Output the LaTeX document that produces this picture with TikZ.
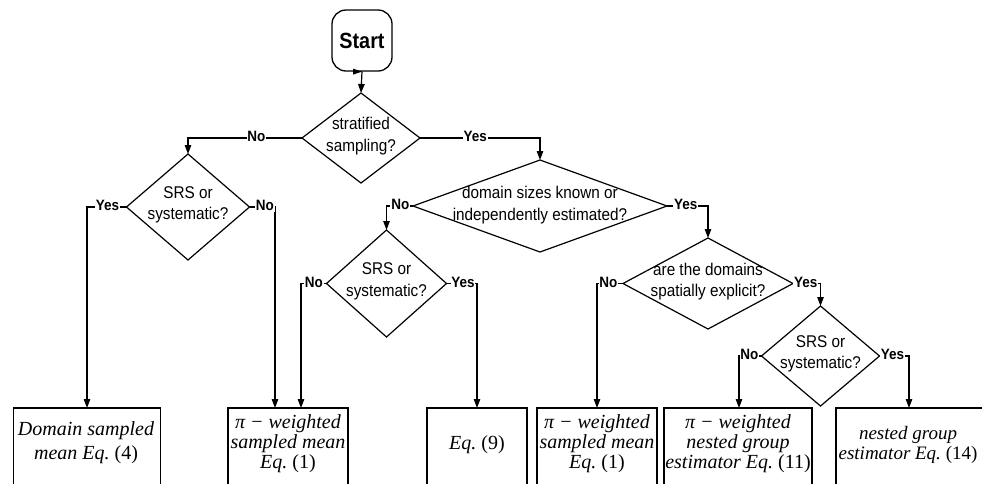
\documentclass[tikz,border=0pt]{standalone}
\usepackage{fontspec}
\setmainfont{Liberation Serif}
\newfontfamily\dsans[FakeStretch=0.9]{Liberation Sans}
\usetikzlibrary{shapes.geometric,arrows.meta,calc}
\tikzset{
  dia/.style={diamond, draw, line width=1.2pt, inner sep=0pt, outer sep=0pt},
  dtxt/.style={align=center, font=\dsans\fontsize{17}{21.5}\selectfont, inner sep=0pt},
  arr/.style={line width=1.2pt, -{Triangle[length=9pt,width=6.5pt]}},
  lbl/.style={fill=white, inner sep=0.8pt, yshift=1.5pt, font=\dsans\bfseries\fontsize{15}{16}\selectfont},
  boxnode/.style={draw, line width=1.4pt, inner sep=0pt, outer sep=0pt, anchor=north},
  btxt/.style={align=center, inner sep=0pt, font=\fontsize{20}{20}\selectfont},
  startbox/.style={draw, line width=1.3pt, rounded corners=14pt, minimum width=60pt, minimum height=61pt, inner sep=0pt, font=\dsans\bfseries\fontsize{22}{24}\selectfont}
}
\begin{document}
\begin{tikzpicture}[x=1pt,y=-1pt]
\useasboundingbox (0,0) rectangle (982,483);
\clip (0,0) rectangle (982,483);
\fill[white] (0,0) rectangle (982,483);

% start
\node[startbox] (s) at (362,40.5) {Start};
\fill ($(s.south)+(-9,-3)$) -- ($(s.south)+(-9,3)$) -- ($(s.south)+(0,0)$) -- cycle;

% diamonds
\node[dia, minimum width=118pt, minimum height=90pt] (d1) at (361,138) {};
\node[dtxt] (d1t) at ([yshift=2pt]d1) {stratified\\sampling?};
\node[dia, minimum width=123pt, minimum height=106pt] (d2) at (188,207) {};
\node[dtxt] (d2t) at ([yshift=2pt]d2) {SRS or\\systematic?};
\node[dia, minimum width=254pt, minimum height=92pt] (d3) at (540,206) {};
\node[dtxt] (d3t) at ([yshift=1pt]d3) {domain sizes known or\\independently estimated?};
\node[dia, minimum width=120pt, minimum height=107pt] (d4) at (386.5,283.5) {};
\node[dtxt] (d4t) at ([yshift=2pt]d4) {SRS or\\systematic?};
\node[dia, minimum width=170pt, minimum height=91pt] (d5) at (708,283.5) {};
\node[dtxt] (d5t) at ([yshift=2pt]d5) {are the domains\\spatially explicit?};
\node[dia, minimum width=118pt, minimum height=100pt] (d6) at (820.5,356) {};
\node[dtxt] (d6t) at ([yshift=2pt]d6) {SRS or\\systematic?};

% boxes
\node[boxnode, minimum width=147pt, minimum height=95pt] (b1) at (87,408) {};
\node[btxt, font=\fontsize{20}{24}\selectfont] (t1) at (86,443) {\textit{Domain sampled}\\\textit{mean Eq.}~(4)};
\node[boxnode, minimum width=120pt, minimum height=95pt] (b2) at (288,408) {};
\node[btxt] (t2) at (288,444) {\textit{π − weighted}\\\textit{sampled mean}\\\textit{Eq.}~(1)};
\node[boxnode, minimum width=100pt, minimum height=95pt] (b3) at (477,408) {};
\node[btxt] (t3) at (477,445) {\textit{Eq.}~(9)};
\node[boxnode, minimum width=120pt, minimum height=95pt] (b4) at (597,408) {};
\node[btxt] (t4) at (597,444) {\textit{π − weighted}\\\textit{sampled mean}\\\textit{Eq.}~(1)};
\node[boxnode, minimum width=148pt, minimum height=95pt] (b5) at (738,408) {};
\node[btxt] (t5) at (738,444) {\textit{π − weighted}\\\textit{nested group}\\\textit{estimator Eq.}~(11)};
\node[boxnode, minimum width=160pt, minimum height=95pt] (b6) at (916,408) {};
\node[btxt, font=\fontsize{19}{20}\selectfont] (t6) at (908,445) {\textit{nested group}\\\textit{estimator Eq.}~(14)};

% connectors
\draw[arr] (s.south) -- (d1.north);
\draw[arr] (d1.west) -| node[lbl, pos=0.2] {No} (d2.north);
\draw[arr] (d1.east) -| node[lbl, pos=0.23] {Yes} (d3.north);
\draw[arr] (d2.west) -| node[lbl, pos=0.24] {Yes} (b1.north);
\draw[arr] (d2.east) -| node[lbl, pos=0.3] {No} ([xshift=-13pt]b2.north);
\draw[arr] (d3.west) -| node[lbl, pos=0.24] {No} (d4.north);
\draw[arr] (d3.east) -| node[lbl, pos=0.23] {Yes} (d5.north);
\draw[arr] (d4.west) -| node[lbl, pos=0.25] {No} ([xshift=13pt]b2.north);
\draw[arr] (d4.east) -| node[lbl, pos=0.27] {Yes} (b3.north);
\draw[arr] (d5.west) -| node[lbl, pos=0.28] {No} (b4.north);
\draw[arr] (d5.east) -| node[lbl, pos=0.23] {Yes} (d6.north);
\draw[arr] (d6.west) -| node[lbl, pos=0.27] {No} ([xshift=1pt]b5.north);
\draw[arr] (d6.east) -| node[lbl, pos=0.22] {Yes} ([xshift=-7pt]b6.north);
\end{tikzpicture}
\end{document}
